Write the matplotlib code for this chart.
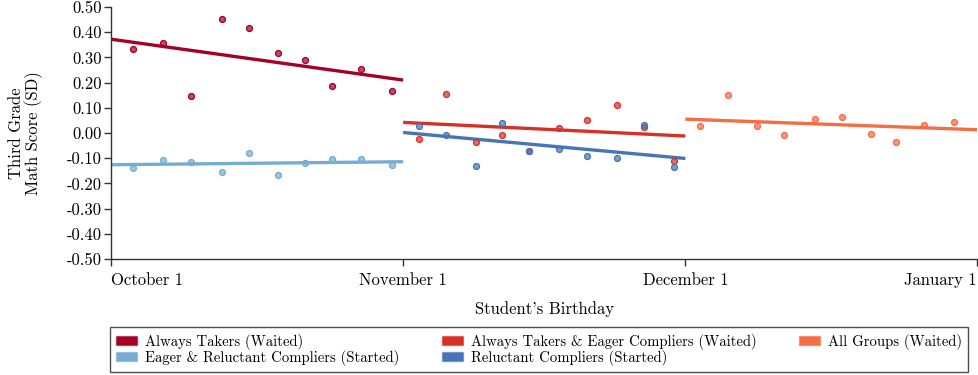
"""Third grade math score by birthday, split by school-entry groups."""

import matplotlib.pyplot as plt
from matplotlib.colors import to_rgba
from matplotlib.patches import Patch

plt.rcParams["font.family"] = "cmr10"
plt.rcParams["axes.unicode_minus"] = False
plt.rcParams["mathtext.fontset"] = "cm"

# Birthday measured in days after October 1
oct_days = [2.3, 5.5, 8.4, 11.7, 14.6, 17.7, 20.6, 23.4, 26.5, 29.8]
nov_days = [32.7, 35.6, 38.7, 41.5, 44.4, 47.6, 50.5, 53.7, 56.6, 59.8]
dec_days = [62.6, 65.5, 68.6, 71.5, 74.8, 77.6, 80.7, 83.4, 86.4, 89.6]

always_takers = [0.335, 0.356, 0.145, 0.453, 0.416, 0.317, 0.290, 0.187, 0.255, 0.168]
eager_reluctant = [-0.139, -0.108, -0.115, -0.154, -0.079, -0.165, -0.119, -0.103, -0.102, -0.126]
takers_eager = [-0.023, 0.154, -0.037, -0.009, -0.073, 0.018, 0.050, 0.112, 0.022, -0.110]
reluctant = [0.028, -0.009, -0.131, 0.040, -0.073, -0.065, -0.091, -0.101, 0.033, -0.133]
all_groups = [0.028, 0.149, 0.029, -0.009, 0.055, 0.063, -0.002, -0.037, 0.030, 0.045]

# Linear fits, evaluated at the ends of each month
oct_fit_days = [0, 31]
nov_fit_days = [31, 61]
dec_fit_days = [61, 92]
always_takers_fit = [0.372, 0.210]
eager_reluctant_fit = [-0.126, -0.114]
takers_eager_fit = [0.042, -0.012]
reluctant_fit = [0.002, -0.101]
all_groups_fit = [0.055, 0.013]

tick_days = [0, 31, 61, 92]
tick_labels = ["October 1", "November 1", "December 1", "January 1"]
y_ticks = [0.5, 0.4, 0.3, 0.2, 0.1, 0.0, -0.1, -0.2, -0.3, -0.4, -0.5]

series = [
    ("Always Takers (Waited)", "#a50026", oct_days, always_takers, oct_fit_days, always_takers_fit),
    ("Eager & Reluctant Compliers (Started)", "#74add1", oct_days, eager_reluctant, oct_fit_days, eager_reluctant_fit),
    ("Always Takers & Eager Compliers (Waited)", "#d73027", nov_days, takers_eager, nov_fit_days, takers_eager_fit),
    ("Reluctant Compliers (Started)", "#4575b4", nov_days, reluctant, nov_fit_days, reluctant_fit),
    ("All Groups (Waited)", "#f46d43", dec_days, all_groups, dec_fit_days, all_groups_fit),
]

fig = plt.figure(figsize=(9.79, 3.75), dpi=100, facecolor="white")
ax = fig.add_axes([111.5 / 979, 1 - 259 / 375, (977 - 111.5) / 979, (259 - 7) / 375])

handles = []
for label, color, xs, ys, fx, fy in series:
    ax.plot(fx, fy, color=color, linewidth=2.4, solid_capstyle="butt", zorder=2)
    ax.plot(xs, ys, linestyle="none", marker="o", markersize=4.3,
            markerfacecolor=to_rgba(color, 0.7), markeredgecolor=color,
            markeredgewidth=0.9, zorder=3)
    handles.append(Patch(facecolor=color, edgecolor=to_rgba(color, 0.5), label=label))

ax.set_xlim(0, 92)
ax.set_ylim(-0.5, 0.5)
ax.set_yticks(y_ticks)
ax.set_yticklabels([f"{v:.2f}" for v in y_ticks])
ax.set_xticks(tick_days)
ax.set_xticklabels(tick_labels)
xt = ax.get_xticklabels()
xt[0].set_ha("left")
xt[-1].set_ha("right")

for side in ("top", "right"):
    ax.spines[side].set_visible(False)
for side in ("left", "bottom"):
    ax.spines[side].set_color("#333333")
    ax.spines[side].set_linewidth(1.0)
ax.tick_params(axis="both", direction="out", length=5, width=1.0,
               color="#333333", labelsize=12, pad=2)
ax.tick_params(axis="x", pad=5)

ax.set_xlabel("Student's Birthday", fontsize=12, labelpad=9)
ax.set_ylabel("Third Grade\nMath Score (SD)", fontsize=12, labelpad=17, linespacing=1.05)

# five entries in three columns; matplotlib fills column by column
leg = fig.legend(
    handles=handles,
    loc="lower left",
    bbox_to_anchor=(110 / 979, 3 / 375, (968 - 110) / 979, 42 / 375),
    mode="expand",
    ncol=3,
    fontsize=10.6,
    frameon=True,
    fancybox=False,
    edgecolor="#222222",
    handlelength=1.4,
    handleheight=0.55,
    handletextpad=0.55,
    labelspacing=0.02,
    borderpad=0.42,
    borderaxespad=0,
)
leg.get_frame().set_linewidth(1.0)

fig.savefig("out.png", dpi=100, facecolor="white")
